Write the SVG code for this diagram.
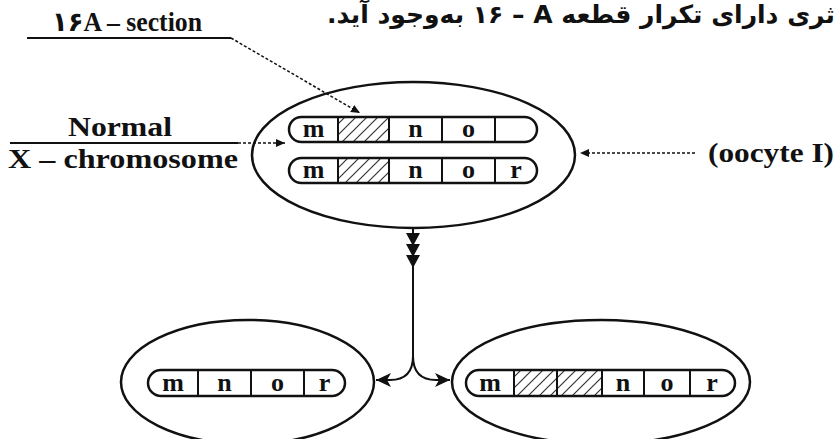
<svg xmlns="http://www.w3.org/2000/svg" width="837" height="439" viewBox="0 0 837 439">
<style>
.ell{fill:none;stroke:#111;stroke-width:2.5}
.chr{fill:none;stroke:#111;stroke-width:2.5}
.bg{fill:#fff}
.hat{fill:url(#hatch)}
.div{stroke:#111;stroke-width:2}
.lbl{font-family:'Liberation Serif','DejaVu Sans',serif;font-weight:bold;fill:#111}
.gene{font-family:'Liberation Serif',serif;font-weight:bold;fill:#111;font-size:26px;text-anchor:middle}
.dot{fill:none;stroke:#111;stroke-width:1.5;stroke-dasharray:3 2}
.conn{fill:none;stroke:#111;stroke-width:2}
.solid{stroke:#111;stroke-width:2}
</style>
<defs>
<pattern id="hatch" patternUnits="userSpaceOnUse" width="11" height="11">
<path d="M0,11 L11,0 M-3,3 L3,-3 M8,14 L14,8" stroke="#333" stroke-width="1.2"/>
</pattern>
<marker id="ah" markerUnits="userSpaceOnUse" markerWidth="10" markerHeight="8" refX="9" refY="4" orient="auto"><path d="M0,0 L9,4 L0,8 z" fill="#111"/></marker>
<marker id="tri" markerUnits="userSpaceOnUse" markerWidth="14" markerHeight="14" refX="13" refY="7" orient="auto"><path d="M0,0 L13,7 L0,14 z" fill="#111"/></marker>
<marker id="br" markerUnits="userSpaceOnUse" markerWidth="16" markerHeight="14" refX="15" refY="7" orient="auto"><path d="M0,0 L15,7 L0,14 L4,7 z" fill="#111"/></marker>
</defs>
<rect width="837" height="439" fill="#fff"/>

<g id="title">
<text x="835" y="23" direction="rtl" text-anchor="start" font-family="'DejaVu Sans',sans-serif" font-weight="bold" font-size="25" fill="#111">ثری دارای تکرار قطعه A&#x200F; – ۱۶ به&#x200C;وجود آید.</text>
</g>

<g id="label-section">
<text class="lbl" x="52" y="31" font-size="27" textLength="150" lengthAdjust="spacingAndGlyphs">۱۶A – section</text>
<line class="solid" x1="27" y1="38" x2="231" y2="38"/>
</g>

<g id="label-normal">
<text class="lbl" x="68" y="136" font-size="28" textLength="104" lengthAdjust="spacingAndGlyphs">Normal</text>
<line class="solid" x1="10" y1="143" x2="238" y2="143"/>
<text class="lbl" x="8" y="168" font-size="28" textLength="230" lengthAdjust="spacingAndGlyphs">X – chromosome</text>
</g>

<g id="label-oocyte">
<text class="lbl" x="708" y="162" font-size="28" textLength="126" lengthAdjust="spacingAndGlyphs">(oocyte I)</text>
</g>

<g id="cell-oocyte1">
<ellipse class="ell" cx="413.5" cy="155" rx="161.5" ry="73"/>
<g id="chr-top-1">
<rect class="bg" x="289" y="117" width="248" height="25" rx="12.5"/>
<rect class="hat" x="338" y="117" width="51" height="25"/>
<rect class="chr" x="289" y="117" width="248" height="25" rx="12.5"/>
<path class="div" d="M338,117V142M389,117V142M442,117V142M495,117V142"/>
<text class="gene" x="313.5" y="137">m</text>
<text class="gene" x="415.5" y="137">n</text>
<text class="gene" x="468.5" y="137">o</text>
</g>
<g id="chr-top-2">
<rect class="bg" x="289" y="158" width="248" height="25" rx="12.5"/>
<rect class="hat" x="338" y="158" width="51" height="25"/>
<rect class="chr" x="289" y="158" width="248" height="25" rx="12.5"/>
<path class="div" d="M338,158V183M389,158V183M442,158V183M495,158V183"/>
<text class="gene" x="313.5" y="178">m</text>
<text class="gene" x="415.5" y="178">n</text>
<text class="gene" x="468.5" y="178">o</text>
<text class="gene" x="516" y="178">r</text>
</g>
</g>

<g id="cell-left">
<ellipse class="ell" cx="247.5" cy="382" rx="126.5" ry="62"/>
<rect class="bg" x="148" y="370" width="197" height="26" rx="13"/>
<rect class="chr" x="148" y="370" width="197" height="26" rx="13"/>
<path class="div" d="M198,370V396M251,370V396M304,370V396"/>
<text class="gene" x="173" y="391">m</text>
<text class="gene" x="224.5" y="391">n</text>
<text class="gene" x="277.5" y="391">o</text>
<text class="gene" x="324.5" y="391">r</text>
</g>

<g id="cell-right">
<ellipse class="ell" cx="601" cy="382" rx="149" ry="62"/>
<rect class="bg" x="466" y="370" width="269" height="26" rx="13"/>
<rect class="hat" x="514" y="370" width="88" height="26"/>
<rect class="chr" x="466" y="370" width="269" height="26" rx="13"/>
<path class="div" d="M514,370V396M557,370V396M602,370V396M644,370V396M690,370V396"/>
<text class="gene" x="490" y="391">m</text>
<text class="gene" x="623" y="391">n</text>
<text class="gene" x="667" y="391">o</text>
<text class="gene" x="712" y="391">r</text>
</g>

<g id="connectors">
<path class="dot" d="M231,38 L360,113" marker-end="url(#ah)"/>
<path class="dot" d="M238,143 L285,143" marker-end="url(#ah)"/>
<path class="dot" d="M695,153 L580,153" marker-end="url(#ah)"/>
<path class="conn" d="M413,228 L413,246 L413,257 L413,268 L413,358" marker-mid="url(#tri)"/>
<path class="conn" d="M413,356 C413,372 420,380 436,380 L450,380" marker-end="url(#br)"/>
<path class="conn" d="M413,356 C413,372 406,380 390,380 L376,380" marker-end="url(#br)"/>
</g>
</svg>
